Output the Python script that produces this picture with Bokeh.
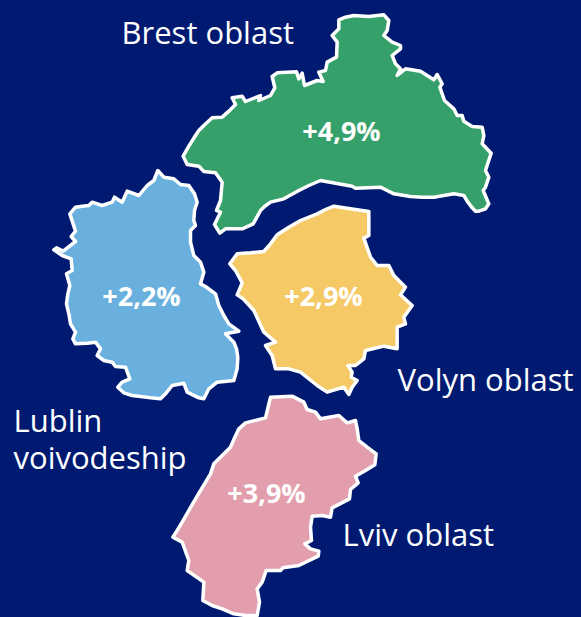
from bokeh.plotting import figure
from bokeh.embed import file_html
from bokeh.resources import INLINE
from bokeh.core.properties import value
from bokeh.models import Range1d

BREST = [(38,467),(55,437),(75,405),(85,390),(100,375),(125,352),(155,350),(175,332),(195,312),(185,292),(215,287),(225,303),(270,285),(265,300),(300,285),(313,262),(305,228),(320,217),(378,214),(385,235),(395,218),(402,255),(440,240),(458,243),(445,215),(465,210),(470,185),(498,170),(500,125),(485,105),(505,85),(505,58),(525,50),(550,45),(595,48),(640,43),(655,60),(650,90),(640,105),(665,125),(690,135),(690,145),(665,165),(675,190),(690,205),(680,225),(705,205),(750,212),(790,238),(800,222),(815,250),(808,260),(822,300),(850,325),(860,345),(875,345),(880,362),(905,378),(935,380),(940,405),(935,430),(962,458),(945,510),(955,530),(945,560),(938,570),(955,610),(945,625),(925,632),(915,632),(905,622),(890,602),(880,585),(850,580),(790,590),(755,590),(720,588),(670,580),(650,570),(630,560),(555,563),(545,557),(450,540),(415,555),(385,570),(340,595),(300,605),(282,618),(270,630),(258,652),(248,670),(215,685),(165,685),(148,698),(132,672),(150,635),(138,630),(150,600),(155,545),(135,517),(100,513),(85,497),(50,492)]
LUBLIN = [(352,30),(370,50),(400,55),(420,72),(445,75),(462,100),(470,125),(462,150),(460,180),(465,195),(450,210),(450,245),(460,285),(480,305),(490,335),(480,370),(495,378),(525,400),(535,435),(550,465),(565,490),(595,512),(555,520),(565,530),(580,545),(588,565),(592,590),(590,625),(580,660),(530,665),(505,685),(490,715),(475,712),(440,695),(430,668),(395,675),(375,700),(360,715),(330,712),(300,708),(275,705),(250,697),(232,680),(245,665),(268,655),(255,620),(225,618),(215,605),(190,600),(170,585),(180,565),(165,545),(140,548),(105,550),(97,535),(105,515),(90,490),(85,460),(78,430),(82,400),(88,375),(78,340),(95,330),(92,295),(65,285),(40,268),(48,262),(68,272),(105,243),(92,228),(105,212),(88,160),(105,140),(125,137),(145,135),(155,125),(185,135),(215,125),(222,110),(245,125),(260,92),(295,105),(320,75),(340,60)]
VOLYN = [(340,32),(390,40),(445,48),(445,85),(445,120),(430,128),(450,185),(470,210),(505,210),(520,240),(555,275),(540,298),(575,330),(550,365),(555,385),(530,395),(530,460),(490,452),(435,465),(430,490),(405,510),(382,510),(395,530),(392,545),(410,555),(395,575),(385,597),(370,575),(320,590),(290,570),(240,530),(205,520),(165,520),(155,480),(135,450),(165,440),(130,410),(100,345),(68,310),(50,298),(65,262),(45,225),(28,205),(50,175),(90,172),(130,168),(150,145),(170,118),(205,95),(240,75),(290,55),(315,42)]
LVIV = [(315,35),(380,32),(415,50),(425,72),(450,80),(465,100),(520,90),(545,112),(570,105),(575,130),(580,165),(605,185),(632,205),(628,238),(600,255),(570,272),(578,292),(555,312),(552,340),(500,367),(495,395),(470,390),(440,392),(435,425),(438,465),(418,475),(435,490),(460,497),(458,512),(400,540),(352,547),(345,555),(302,555),(290,590),(275,610),(282,650),(275,690),(240,690),(205,685),(170,670),(140,660),(112,645),(115,590),(65,555),(70,525),(50,470),(22,455),(35,435),(50,410),(90,340),(135,265),(145,235),(170,210),(195,185),(208,155),(220,130),(240,112),(300,97)]

REGIONS = ["Brest oblast", "Lublin voivodeship", "Volyn oblast", "Lviv oblast"]
CHANGES = ["+4,9%", "+2,2%", "+2,9%", "+3,9%"]
COLORS = ["#36a06b", "#69b0de", "#f5ca66", "#e29eac"]
BG = "#001a72"

# crop origins of the four tracings
ORIGINS = [(170, 0), (40, 160), (220, 195), (165, 385)]
OUTLINES = [BREST, LUBLIN, VOLYN, LVIV]

W, H = 581, 617
p = figure(width=W, height=H, output_backend="svg", toolbar_location=None,
           x_range=Range1d(0, W), y_range=Range1d(H, 0), min_border=0,
           background_fill_color=BG, border_fill_color=BG, outline_line_color=None)
p.axis.visible = False
p.grid.visible = False

for pts, (ox, oy), c in zip(OUTLINES, ORIGINS, COLORS):
    xs = [ox + a / 3 for a, b in pts]
    ys = [oy + b / 3 for a, b in pts]
    p.patch(xs, ys, fill_color=c, line_color="white", line_width=3.5, line_join="round")

FONT = value("Open Sans")
label_pos = [(121, 31, "Brest oblast"), (13, 419, "Lublin"), (13, 456, "voivodeship"),
             (397, 378, "Volyn oblast"), (342, 533, "Lviv oblast")]
for x, y, t in label_pos:
    p.text([x], [y], text=[t], text_color="white", text_font=FONT, text_font_size="31px",
           text_baseline="middle", text_align="left")

change_pos = [(341, 130), (141, 295), (323, 295), (266, 492)]
for (x, y), t in zip(change_pos, CHANGES):
    p.text([x], [y], text=[t], text_color="white", text_font=FONT, text_font_size="27px",
           text_font_style="bold", text_baseline="middle", text_align="center")

html = file_html(p, INLINE)
html = html.replace("<head>", f"<head><style>html,body{{margin:0;padding:0;background:{BG};overflow:hidden}}</style>", 1)
open("out.html", "w").write(html)
